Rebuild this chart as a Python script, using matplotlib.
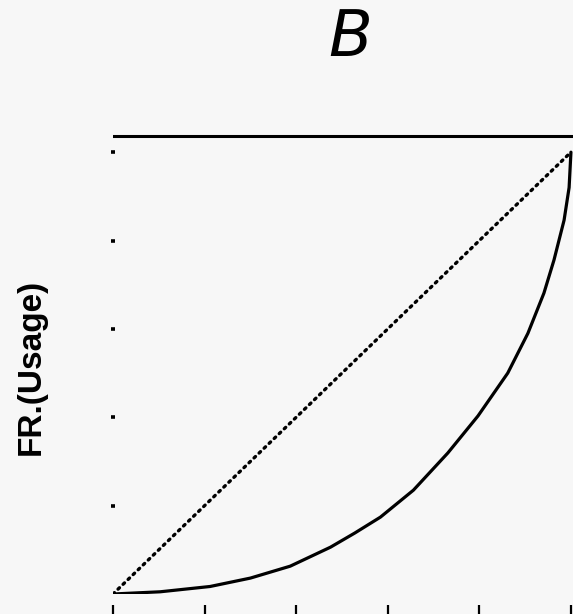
import numpy as np
import matplotlib
matplotlib.use("Agg")
import matplotlib.pyplot as plt

# ── Data ────────────────────────────────────────────────────────────
# cumulative fraction of users vs cumulative fraction of usage
lorenz_x = [0.0, 0.103, 0.212, 0.30, 0.387, 0.475, 0.528, 0.584, 0.656,
            0.731, 0.797, 0.862, 0.906, 0.941, 0.963, 0.985, 0.996, 1.0]
lorenz_y = [0.0, 0.005, 0.017, 0.036, 0.063, 0.106, 0.138, 0.174, 0.235,
            0.319, 0.403, 0.500, 0.590, 0.681, 0.756, 0.846, 0.920, 1.0]
equality_x = [0.0, 1.0]
equality_y = [0.0, 1.0]
top_line_y = 1.036
x_ticks = [0.0, 0.2, 0.4, 0.6, 0.8, 1.0]
y_ticks = [0.2, 0.4, 0.6, 0.8, 1.0]

ylabel = "FR.(Usage)"
title = "B"

# ── Figure ──────────────────────────────────────────────────────────
bg = "#f7f7f7"
fig = plt.figure(figsize=(5.73, 6.14), dpi=100, facecolor=bg)
ax = fig.add_axes([113 / 573, 20 / 614, 460 / 573, 486 / 614])
ax.set_facecolor(bg)

ax.plot(lorenz_x, lorenz_y, color="black", lw=2.3,
        solid_capstyle="round", solid_joinstyle="round")
ax.plot(equality_x, equality_y, color="black", lw=2.4,
        linestyle=(0, (0.6, 1.5)), dash_capstyle="round")
ax.axhline(top_line_y, xmin=0.0, xmax=1.0, color="black", lw=2.2)

ax.set_xlim(0, 1.0045)
ax.set_ylim(0, 1.1)

for s in ax.spines.values():
    s.set_visible(False)
ax.spines["bottom"].set_position(("outward", 8))

ax.set_xticks(x_ticks)
ax.set_yticks(y_ticks)
ax.set_xticklabels([])
ax.set_yticklabels([])
ax.tick_params(axis="x", direction="out", length=7, width=1.6, color="black")
ax.tick_params(axis="y", direction="inout", length=2.5, width=2.6, color="black")

fig.text(0.055, 1 - 367 / 614, ylabel, rotation=90, ha="center", va="center",
         fontsize=24, fontweight="bold",
         family=["Liberation Sans", "DejaVu Sans"])
fig.text(350 / 573, 1 - 38 / 614, title, ha="center", va="center",
         fontsize=46, style="italic", family="DejaVu Sans")

fig.savefig("out.png", dpi=100, facecolor=bg)
